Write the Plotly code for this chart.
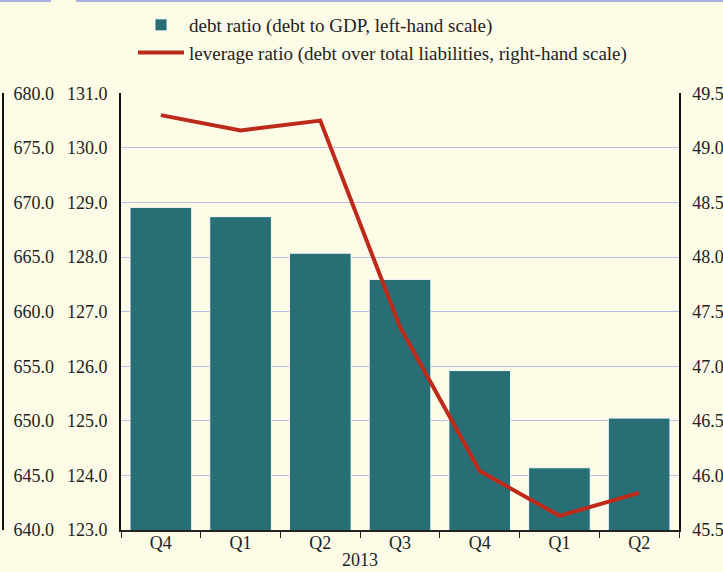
import plotly.graph_objects as go

# Quarter labels (2012 Q4 through 2014 Q2)
quarters = ["Q4", "Q1", "Q2", "Q3", "Q4", "Q1", "Q2"]
year_label = "2013"

# Debt to GDP (%), left-hand scale
debt_ratio = [128.91, 128.74, 128.07, 127.59, 125.92, 124.14, 125.05]
# Debt over total liabilities (%), right-hand scale
leverage_ratio = [49.30, 49.16, 49.25, 47.36, 46.04, 45.63, 45.84]

W, H = 723, 572
FONT = "Liberation Serif, Times New Roman, serif"
BG = "#FEFCE7"
TEAL = "#276E75"
RED = "#BE2A1A"
GRID = "#B6BFE3"
INK = "#222222"
TICKFONT = dict(family=FONT, size=18, color=INK)

x_idx = list(range(len(quarters)))
boundaries = [i - 0.5 for i in range(len(quarters) + 1)]

fig = go.Figure()
fig.add_trace(go.Bar(
    x=x_idx, y=debt_ratio, yaxis="y",
    name="debt ratio (debt to GDP, left-hand scale)",
    marker=dict(color=TEAL, line=dict(color="rgba(255,255,255,0.9)", width=1)),
))
fig.add_trace(go.Scatter(
    x=x_idx, y=leverage_ratio, yaxis="y2", mode="lines",
    name="leverage ratio (debt over total liabilities, right-hand scale)",
    line=dict(color=RED, width=4),
))

x0, x1 = 121 / W, 679 / W
y0, y1 = 42 / H, (H - 93.3) / H

fig.update_layout(
    width=W, height=H,
    margin=dict(l=0, r=0, t=0, b=0),
    paper_bgcolor=BG, plot_bgcolor=BG,
    font=dict(family=FONT, size=18, color=INK),
    bargap=0.227,
    showlegend=True,
    legend=dict(
        x=133 / W, y=1 - 6 / H, xanchor="left", yanchor="top",
        bgcolor="rgba(0,0,0,0)", font=dict(size=19, family=FONT, color=INK),
        itemwidth=46, tracegroupgap=0,
    ),
    xaxis=dict(
        domain=[x0, x1], range=[-0.5, len(quarters) - 0.5],
        tickmode="array", tickvals=x_idx, ticktext=quarters, tickfont=TICKFONT,
        ticks="", showgrid=False, zeroline=False,
        showline=True, linecolor=INK, linewidth=1.5,
        automargin=False, ticklabelstandoff=-4,
        minor=dict(tickmode="array", tickvals=boundaries, ticks="outside",
                   ticklen=6, tickcolor=INK, tickwidth=1, showgrid=False),
    ),
    yaxis=dict(
        domain=[y0, y1], range=[123, 131], dtick=1, tick0=123,
        tickformat=".1f", tickfont=TICKFONT,
        showgrid=True, gridcolor=GRID, gridwidth=1,
        zeroline=False, showline=True, linecolor="#111111", linewidth=2,
        ticks="", automargin=False, ticklabelstandoff=8,
    ),
    yaxis2=dict(
        overlaying="y", side="right", anchor="x",
        range=[45.5, 49.5], dtick=0.5, tick0=45.5, tickformat=".1f",
        tickfont=TICKFONT,
        showgrid=False, zeroline=False, showline=True,
        linecolor="#111111", linewidth=1.5, ticks="",
        automargin=False, ticklabelstandoff=8,
    ),
    # outer scale on the far left, labels to the right of its line
    yaxis3=dict(
        overlaying="y", side="right", anchor="free", position=3 / W,
        range=[640, 680], dtick=5, tick0=640, tickformat=".1f",
        tickfont=TICKFONT,
        showgrid=False, zeroline=False, showline=True,
        linecolor="#111111", linewidth=2, ticks="",
        automargin=False, ticklabelstandoff=6,
    ),
    annotations=[dict(
        x=(1 + 4) / 2, xref="x", y=0, yref="paper",
        text=year_label, showarrow=False, yanchor="bottom",
        font=dict(size=18, family=FONT, color=INK),
    )],
    shapes=[
        dict(type="line", xref="paper", yref="paper", x0=0, x1=51 / W,
             y0=1 - 1 / H, y1=1 - 1 / H, line=dict(color="#A9B1E0", width=2)),
        dict(type="line", xref="paper", yref="paper", x0=76 / W, x1=1,
             y0=1 - 1 / H, y1=1 - 1 / H, line=dict(color="#A9B1E0", width=2)),
    ],
)

# keep the outer axis drawn even though no trace is attached to it
fig.add_trace(go.Scatter(x=[None], y=[None], yaxis="y3", showlegend=False,
                         hoverinfo="skip"))

fig.write_html("out.html")
